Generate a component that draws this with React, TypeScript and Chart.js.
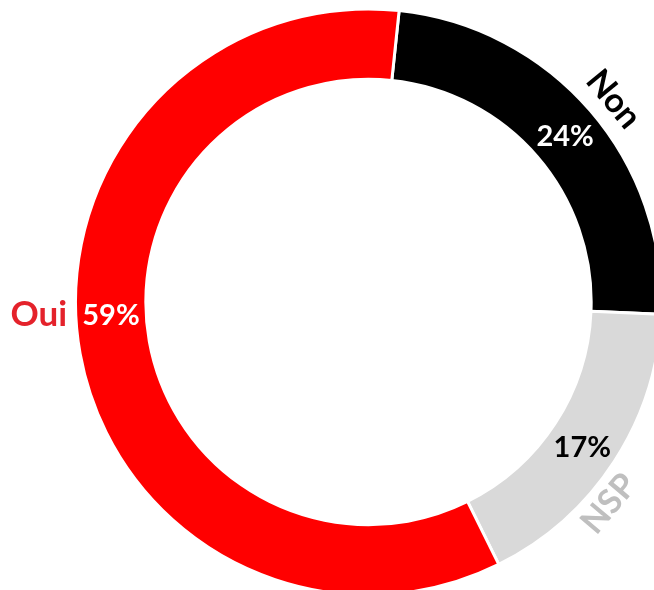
import React, { useEffect, useRef } from 'react';
import { Chart, registerables } from 'chart.js';

Chart.register(...registerables);

const categories = ['Non', 'NSP', 'Oui'];
const values = [24, 17, 59];
const valueLabels = ['24%', '17%', '59%'];
const sliceColors = ['#000000', '#D9D9D9', '#FF0000'];

const FONT = 'Lato, "Open Sans", "Liberation Sans", sans-serif';

// label styling (not data)
const valueTextColors = ['#FFFFFF', '#000000', '#FFFFFF'];
const valueAngleShift = [0.5, 1, 7.5]; // degrees
const catTextColors = ['#000000', '#BFBFBF', '#E4222B'];
const catRadiusOffset = [26, 20, 37];
const catAngleShift = [1.2, 7, 8.1];
const catRotate = ['tangent', 'tangentFlip', 'none'];

const labelPlugin = {
  id: 'ringLabels',
  afterDatasetsDraw(chart: any) {
    const ctx = chart.ctx as CanvasRenderingContext2D;
    const meta = chart.getDatasetMeta(0);
    ctx.save();
    ctx.textAlign = 'center';
    ctx.textBaseline = 'middle';
    meta.data.forEach((arc: any, i: number) => {
      const p = arc.getProps(['x', 'y', 'startAngle', 'endAngle', 'innerRadius', 'outerRadius'], true);
      const mid = (p.startAngle + p.endAngle) / 2;
      // value label
      const va = mid + (valueAngleShift[i] * Math.PI) / 180;
      const vr = (p.innerRadius + p.outerRadius) / 2;
      ctx.font = `bold 29px ${FONT}`;
      ctx.fillStyle = valueTextColors[i];
      ctx.fillText(valueLabels[i], p.x + vr * Math.cos(va), p.y + vr * Math.sin(va) + 1);
      // category label
      const ca = mid + (catAngleShift[i] * Math.PI) / 180;
      const cr = p.outerRadius + catRadiusOffset[i];
      const cx = p.x + cr * Math.cos(ca);
      const cy = p.y + cr * Math.sin(ca);
      ctx.save();
      ctx.translate(cx, cy);
      if (catRotate[i] === 'tangent') ctx.rotate(ca + Math.PI / 2);
      else if (catRotate[i] === 'tangentFlip') ctx.rotate(ca - Math.PI / 2);
      ctx.font = `bold ${i === 2 ? 35 : 34}px ${FONT}`;
      ctx.fillStyle = catTextColors[i];
      ctx.fillText(categories[i], 0, 1);
      ctx.restore();
    });
    ctx.restore();
  },
};

export default function App() {
  const ref = useRef<HTMLCanvasElement>(null);
  useEffect(() => {
    document.body.style.margin = '0';
    const chart = new Chart(ref.current!, {
      type: 'doughnut',
      data: {
        labels: categories,
        datasets: [
          {
            data: values,
            backgroundColor: sliceColors,
            borderColor: '#FFFFFF',
            borderWidth: 3,
            hoverOffset: 0,
            clip: false as any,
          },
        ],
      },
      options: {
        responsive: false,
        animation: false,
        devicePixelRatio: 1,
        rotation: 6,
        cutout: '76%',
        radius: 293,
        layout: { padding: { left: 83, right: 0, top: 14, bottom: 0 } },
        plugins: { legend: { display: false }, tooltip: { enabled: false } },
      },
      plugins: [labelPlugin],
    });
    return () => chart.destroy();
  }, []);
  return (
    <div style={{ position: 'fixed', left: 0, top: 0, width: 654, height: 590, overflow: 'hidden', background: '#fff' }}>
      <canvas ref={ref} width={654} height={590} style={{ width: 654, height: 590 }} />
    </div>
  );
}
